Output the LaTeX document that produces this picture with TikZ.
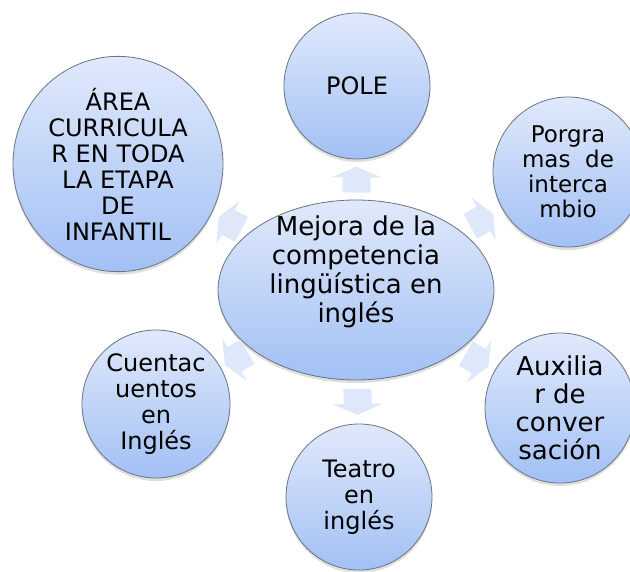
\documentclass[tikz,border=0pt]{standalone}
\usepackage{fontspec}
\setmainfont{DejaVu Sans}
\usetikzlibrary{calc,shadows,shapes.geometric}

\definecolor{bordeazul}{RGB}{105,115,130}
\definecolor{azulclaro}{RGB}{224,233,251}
\definecolor{azulfondo}{RGB}{162,192,244}
\definecolor{flechaazul}{RGB}{223,232,250}

\tikzset{
  burbuja/.style={circle,draw=bordeazul,line width=0.8pt,top color=azulclaro,bottom color=azulfondo,
    drop shadow={shadow xshift=0pt,shadow yshift=-3pt,opacity=.25},
    align=center,inner sep=0pt,font=\fontsize{24}{26}\selectfont},
  ovalo/.style={burbuja,ellipse},
  pics/flecha/.style={code={
    \fill[flechaazul] (-13,-14) -- (2,-14) -- (2,-25) -- (13,0) -- (2,25) -- (2,14) -- (-13,14) -- cycle;}}
}

\begin{document}
\begin{tikzpicture}[x=1pt,y=-1pt]
\useasboundingbox (0,0) rectangle (630,572);
% burbuja central
\node[ovalo,minimum width=276pt,minimum height=180pt,
  label={[name=ctxt,yshift=18pt,align=center,font=\fontsize{26}{29}\selectfont]center:Mejora de la\\competencia\\lingüística en\\inglés}]
  (c) at (356,290) {};
% burbujas exteriores
\node[burbuja,minimum size=146pt] (pole) at (357,86) {POLE};
\node[ovalo,minimum width=210pt,minimum height=178pt] (area) at (118,164) {ÁREA\\CURRICULA\\R EN TODA\\LA ETAPA\\DE\\INFANTIL};
\node[burbuja,minimum size=150pt,font=\fontsize{23}{25}\selectfont] (prog) at (568,172) {Porgra\\mas~~de\\interca\\mbio};
\node[burbuja,minimum size=150pt,font=\fontsize{26}{28}\selectfont] (aux) at (560,408) {Auxilia\\r de\\conver\\sación};
\node[burbuja,minimum size=146pt] (teatro) at (359,497) {Teatro\\en\\inglés};
\node[burbuja,minimum size=148pt] (cuento) at (156,404) {Cuentac\\uentos\\en\\Inglés};
% flechas
\foreach \t in {pole,area,prog,aux,teatro,cuento}
  \path (c) -- (\t) pic[midway,sloped,allow upside down] {flecha};
\end{tikzpicture}
\end{document}
